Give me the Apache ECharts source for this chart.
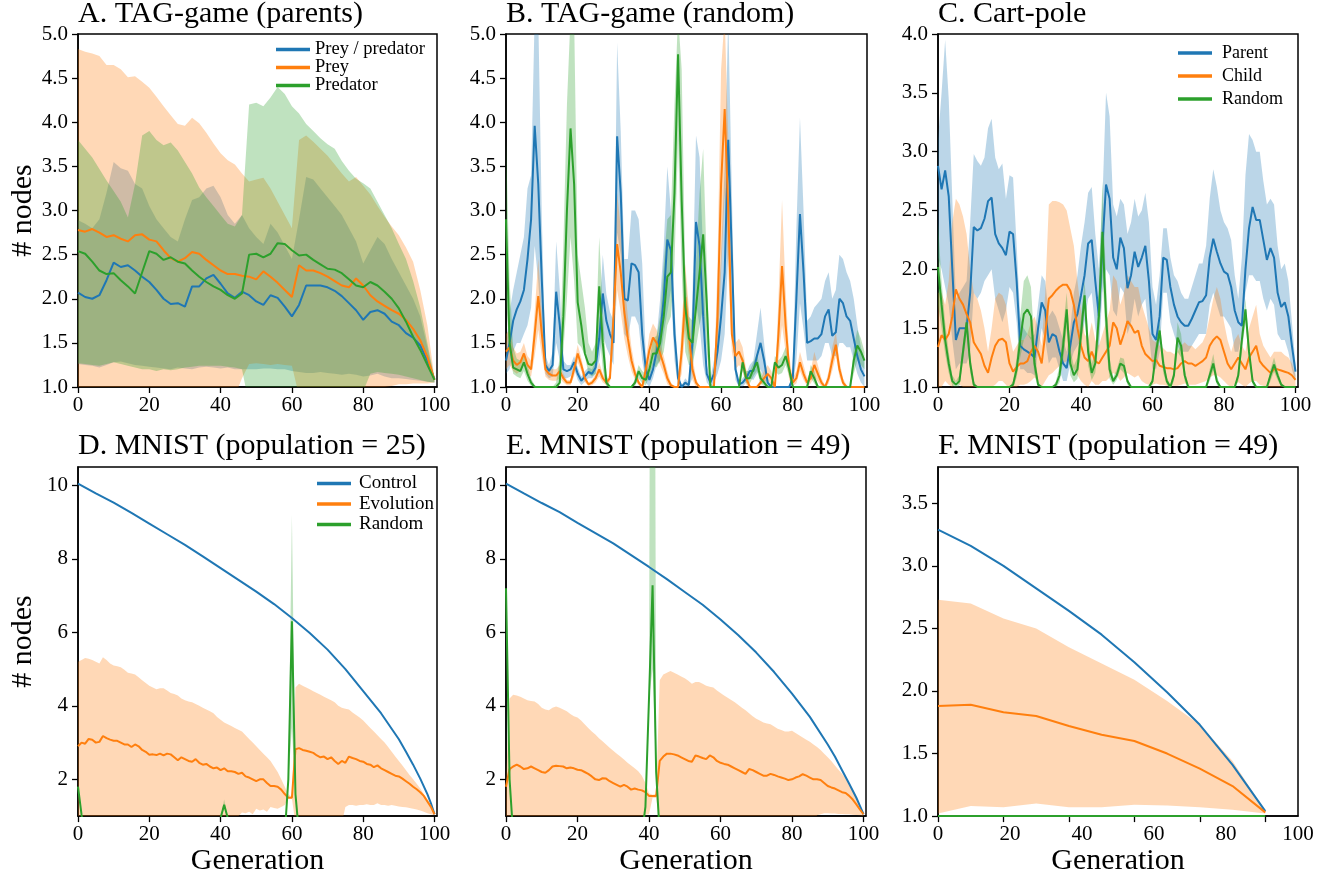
<!DOCTYPE html>
<html><head><meta charset="utf-8">
<script src="https://cdn.jsdelivr.net/npm/echarts@6/dist/echarts.min.js"></script>
<style>html,body{margin:0;padding:0;background:#fff}#c{width:1343px;height:877px}</style>
</head><body><div id="c"></div>
<script>
const FONT = 'Liberation Serif';
const C_BLUE = '#1f77b4', C_ORANGE = '#ff7f0e', C_GREEN = '#2ca02c';
const F_BLUE = 'rgba(31,119,180,0.3)', F_ORANGE = 'rgba(255,127,14,0.3)', F_GREEN = 'rgba(44,160,44,0.3)';

// generation indices
const gensA = []; for (let g = 0; g <= 100; g += 2) gensA.push(g);
const gens = []; for (let g = 0; g <= 100; g++) gens.push(g);
const gensF = [0,10,20,30,40,50,60,70,80,90,100];
const ctrlGens = [0,5,10,15,20,25,30,35,40,45,50,55,60,65,70,75,80,85,90,92,94,96,98,99,100];

// tick labels
const xTicks = [0,20,40,60,80,100];
const yTicksAB = [1.0,1.5,2.0,2.5,3.0,3.5,4.0,4.5,5.0];
const yTicksC = [1.0,1.5,2.0,2.5,3.0,3.5,4.0];
const yTicksDE = [2,4,6,8,10];
const yTicksF = [1.0,1.5,2.0,2.5,3.0,3.5];

// ---- A. TAG-game (parents) ----
const aBlue = [2.07,2.02,2.00,2.04,2.21,2.41,2.36,2.38,2.32,2.25,2.19,2.10,2.00,1.94,1.95,1.91,2.14,2.14,2.23,2.27,2.17,2.06,2.01,2.08,2.04,1.97,1.93,2.04,2.01,1.91,1.80,1.93,2.15,2.15,2.15,2.13,2.09,2.03,1.95,1.87,1.76,1.85,1.87,1.83,1.74,1.70,1.61,1.56,1.47,1.30,1.09];
const aBlueHi = [2.89,2.85,2.80,2.90,3.20,3.55,3.48,3.45,3.30,3.25,3.05,2.90,2.80,2.70,2.65,2.90,3.12,3.15,3.25,3.28,3.15,2.95,2.85,2.95,2.80,2.70,2.62,2.85,2.75,2.60,2.45,2.90,3.38,3.35,3.25,3.15,3.05,2.95,2.80,2.65,2.40,2.55,2.70,2.62,2.45,2.30,2.15,2.00,1.80,1.45,1.10];
const aBlueLo = [1.26,1.25,1.24,1.22,1.25,1.28,1.29,1.27,1.25,1.24,1.23,1.22,1.21,1.20,1.22,1.21,1.20,1.22,1.23,1.22,1.21,1.22,1.20,1.20,1.20,1.20,1.21,1.21,1.20,1.20,1.18,1.17,1.16,1.16,1.17,1.16,1.15,1.14,1.15,1.14,1.12,1.13,1.15,1.12,1.10,1.10,1.09,1.08,1.07,1.06,1.05];
const aOrange = [2.78,2.76,2.79,2.75,2.70,2.72,2.68,2.65,2.72,2.73,2.67,2.65,2.55,2.46,2.42,2.46,2.53,2.51,2.44,2.38,2.32,2.28,2.28,2.26,2.25,2.22,2.31,2.25,2.18,2.10,2.02,2.38,2.32,2.32,2.29,2.25,2.20,2.15,2.13,2.23,2.15,2.04,1.97,1.92,1.87,1.83,1.76,1.66,1.53,1.34,1.08];
const aOrangeHi = [4.83,4.80,4.78,4.75,4.65,4.65,4.60,4.51,4.52,4.46,4.39,4.29,4.18,4.08,3.98,3.96,4.05,3.99,3.88,3.76,3.65,3.57,3.52,3.42,3.33,3.35,3.37,3.25,3.10,2.95,2.80,3.80,3.85,3.78,3.70,3.62,3.52,3.42,3.33,3.38,3.28,3.18,3.05,2.93,2.82,2.72,2.58,2.42,2.10,1.70,1.10];
const aOrangeLo = [0.90,0.90,0.90,0.90,0.90,0.90,0.90,0.90,0.90,0.90,0.90,0.90,0.90,0.90,0.90,0.90,0.90,0.90,0.90,0.90,0.90,0.90,0.90,1.10,1.26,1.27,1.26,1.25,1.26,1.25,1.24,0.90,0.90,0.90,0.90,0.90,0.90,0.90,0.90,0.90,0.90,0.98,0.99,1.00,1.01,1.03,1.03,1.04,1.04,1.04,1.05];
const aGreen = [2.54,2.51,2.42,2.32,2.28,2.29,2.21,2.14,2.06,2.30,2.54,2.51,2.44,2.47,2.42,2.40,2.32,2.25,2.19,2.14,2.10,2.04,2.00,2.06,2.50,2.51,2.47,2.51,2.63,2.62,2.55,2.49,2.50,2.44,2.39,2.34,2.33,2.29,2.22,2.15,2.13,2.19,2.15,2.08,2.00,1.89,1.74,1.57,1.42,1.25,1.08];
const aGreenHi = [3.80,3.70,3.60,3.47,3.34,3.22,3.10,2.92,3.30,3.85,3.90,3.80,3.74,3.77,3.68,3.55,3.42,3.26,3.15,3.05,2.95,2.85,2.82,2.95,4.20,4.22,4.18,4.28,4.40,4.32,4.18,4.10,3.98,3.90,3.82,3.75,3.70,3.56,3.45,3.36,3.31,3.25,3.10,2.95,2.80,2.62,2.45,2.20,1.90,1.50,1.10];
const aGreenLo = [1.27,1.26,1.25,1.24,1.26,1.28,1.26,1.24,1.22,1.20,1.20,1.18,1.20,1.19,1.20,1.22,1.23,1.24,1.24,1.24,1.24,1.23,1.22,1.20,0.80,0.80,0.80,0.80,0.80,0.80,0.80,0.95,0.95,0.95,0.95,0.95,0.95,0.95,0.95,0.95,0.95,1.15,1.17,1.16,1.15,1.14,1.12,1.10,1.08,1.06,1.05];

// ---- B. TAG-game (random) ----
const bBlue = [1.30,1.50,1.75,1.88,1.97,2.10,2.45,2.90,3.96,3.30, 2.20,1.25,1.18,1.25,2.08,1.70,1.20,1.18,1.20,1.28, 1.15,1.07,1.12,1.17,1.15,1.22,1.55,2.06,1.75,1.60, 1.50,3.84,3.20,2.00,1.98,2.40,2.38,2.30,1.60,1.20, 1.08,1.20,1.40,1.60,2.00,2.67,2.55,1.60,1.10,1.00, 1.05,1.02,1.50,2.87,2.60,1.80,1.15,1.05,1.15,1.40, 1.80,2.30,3.80,2.50,1.20,1.03,1.05,1.10,1.18,1.18, 1.35,1.50,1.30,1.05,1.00,1.00,1.00,1.00,1.00,1.00, 1.10,2.00,2.96,2.30,1.50,1.52,1.55,1.55,1.60,1.80, 1.88,1.58,1.62,2.00,1.95,1.80,1.75,1.55,1.35,1.20, 1.12];
const bBlueHi = [1.45,1.85,2.10,2.30,2.50,2.70,3.25,3.40,5.20,5.20, 2.90,1.35,1.25,1.40,2.65,2.10,1.30,1.25,1.25,1.35, 1.22,1.12,1.18,1.22,1.20,1.30,1.80,2.50,2.05,1.85, 1.75,4.90,3.90,2.45,2.45,3.00,3.00,2.90,2.40,1.35, 1.15,1.30,1.55,2.00,2.60,3.50,3.00,1.90,1.20,1.02, 1.10,1.05,2.00,3.85,3.60,2.50,1.25,1.10,1.30,1.80, 2.50,3.50,5.20,3.20,1.30,1.05,1.10,1.15,1.25,1.30, 1.60,1.90,1.50,1.10,1.00,1.00,1.00,1.00,1.00,1.00, 1.20,2.80,4.05,3.00,1.75,1.80,1.90,1.95,2.00,2.20, 2.30,2.00,2.10,2.50,2.45,2.30,2.20,2.00,1.70,1.45, 1.30];
const bBlueLo = [1.15,1.20,1.40,1.50,1.50,1.60,1.70,1.90,2.60,2.20, 1.60,1.15,1.10,1.12,1.50,1.30,1.10,1.10,1.12,1.20, 1.08,1.02,1.06,1.10,1.10,1.15,1.30,1.60,1.45,1.35, 1.25,2.75,2.50,1.60,1.55,1.80,1.80,1.70,1.30,1.05, 1.00,1.10,1.25,1.30,1.60,1.85,2.10,1.30,1.00,0.98, 1.00,1.00,1.10,1.95,1.70,1.25,1.05,1.00,1.05,1.15, 1.30,1.60,2.50,1.80,1.08,1.00,1.00,1.05,1.10,1.08, 1.15,1.20,1.10,1.00,0.98,0.98,0.98,0.98,0.98,0.98, 1.02,1.30,1.95,1.65,1.30,1.30,1.30,1.30,1.35,1.50, 1.50,1.35,1.35,1.50,1.50,1.45,1.45,1.30,1.15,1.05, 1.00];
const bOrange = [1.40,1.45,1.30,1.25,1.28,1.38,1.25,1.20,1.60,2.03, 1.60,1.20,1.15,1.13,1.13,1.18,1.10,1.05,1.05,1.20, 1.38,1.25,1.10,1.03,1.05,1.10,1.20,1.10,1.05,1.10, 1.80,2.62,2.30,1.85,1.55,1.30,1.15,1.05,1.00,1.20, 1.42,1.56,1.50,1.38,1.25,1.10,1.02,1.00,1.00,1.40, 2.02,1.60,1.20,1.05,1.00,1.00,1.00,1.00,1.00,1.80, 3.30,4.15,3.00,1.60,1.35,1.40,1.30,1.10,1.00,1.00, 1.00,1.05,1.10,1.15,1.10,1.00,1.60,2.37,1.70,1.20, 1.05,1.10,1.28,1.15,1.05,1.10,1.25,1.15,1.05,1.00, 1.10,1.30,1.48,1.20,1.05,1.00,1.00,1.00,1.00,1.00, 1.00];
const bOrangeHi = [1.60,1.65,1.45,1.38,1.40,1.50,1.35,1.30,1.85,2.45, 1.85,1.30,1.22,1.20,1.20,1.25,1.15,1.08,1.08,1.28, 1.48,1.33,1.15,1.05,1.08,1.15,1.28,1.15,1.08,1.15, 2.20,3.20,2.80,2.20,1.80,1.45,1.22,1.08,1.02,1.30, 1.60,1.72,1.65,1.50,1.35,1.18,1.05,1.00,1.02,1.70, 2.40,1.90,1.35,1.10,1.00,1.00,1.00,1.00,1.05,2.40, 4.60,5.20,3.80,1.80,1.50,1.55,1.45,1.20,1.02,1.00, 1.00,1.10,1.18,1.25,1.18,1.02,2.00,3.12,2.10,1.35, 1.10,1.18,1.40,1.25,1.10,1.18,1.40,1.25,1.10,1.02, 1.18,1.45,1.62,1.30,1.10,1.02,1.00,1.00,1.00,1.00, 1.00];
const bOrangeLo = [1.20,1.25,1.18,1.15,1.18,1.25,1.15,1.12,1.35,1.65, 1.35,1.12,1.08,1.07,1.07,1.10,1.05,1.02,1.02,1.12, 1.28,1.18,1.05,1.01,1.02,1.05,1.12,1.05,1.02,1.05, 1.45,2.10,1.85,1.55,1.35,1.18,1.08,1.02,0.98,1.10, 1.25,1.40,1.35,1.25,1.15,1.03,1.00,0.98,0.98,1.15, 1.65,1.35,1.08,1.00,0.98,0.98,0.98,0.98,0.98,1.30, 2.30,3.20,2.30,1.40,1.20,1.25,1.18,1.03,0.98,0.98, 0.98,1.02,1.05,1.08,1.03,0.98,1.30,1.70,1.40,1.08, 1.01,1.04,1.18,1.08,1.01,1.04,1.12,1.06,1.01,0.98, 1.04,1.18,1.35,1.12,1.01,0.98,0.98,0.98,0.98,0.98, 0.98];
const bGreen = [2.90,1.50,1.22,1.20,1.18,1.28,1.15,1.05,1.00,1.00, 1.00,1.00,1.00,1.00,1.00,1.05,1.80,3.00,3.93,3.30, 1.96,1.70,1.38,1.26,1.25,1.30,2.14,1.50,1.05,1.00, 1.00,1.00,1.00,1.00,1.00,1.00,1.05,1.18,1.10,1.08, 1.20,1.38,1.38,1.50,1.80,2.25,2.30,3.20,4.77,3.12, 1.91,1.55,1.50,1.90,2.30,2.73,1.95,1.00,1.00,1.00, 1.00,1.00,1.00,1.00,1.00,1.00,1.28,1.10,1.10,1.20, 1.28,1.10,1.05,1.00,1.00,1.28,1.22,1.25,1.35,1.20, 1.00,1.00,1.00,1.00,1.00,1.18,1.10,1.00,1.00,1.00, 1.00,1.00,1.00,1.00,1.00,1.00,1.00,1.30,1.47,1.40, 1.30];
const bGreenHi = [3.80,2.20,1.45,1.32,1.30,1.38,1.25,1.10,1.02,1.00, 1.00,1.00,1.00,1.00,1.05,1.35,2.60,4.20,5.20,5.20, 2.50,2.20,1.90,1.50,1.40,1.50,2.70,1.90,1.15,1.00, 1.00,1.00,1.00,1.00,1.00,1.00,1.10,1.25,1.18,1.15, 1.30,1.55,1.58,1.80,2.40,2.90,2.95,4.20,5.20,4.60, 2.30,1.80,1.75,2.40,3.20,3.70,2.40,1.05,1.00,1.00, 1.00,1.00,1.00,1.00,1.00,1.00,1.35,1.18,1.18,1.28, 1.38,1.18,1.10,1.00,1.00,1.35,1.30,1.35,1.45,1.30, 1.02,1.00,1.00,1.00,1.02,1.25,1.18,1.02,1.00,1.00, 1.00,1.00,1.00,1.00,1.00,1.00,1.02,1.45,1.65,1.55, 1.40];
const bGreenLo = [2.00,1.40,1.15,1.12,1.10,1.18,1.07,1.01,0.98,0.98, 0.98,0.98,0.98,0.98,0.99,1.05,1.40,2.00,2.70,2.20, 1.50,1.45,1.35,1.15,1.12,1.15,1.65,1.20,1.00,0.98, 0.98,0.98,0.98,0.98,0.98,0.98,1.01,1.10,1.04,1.02, 1.12,1.25,1.22,1.30,1.40,1.70,1.80,2.40,3.80,2.30, 1.40,1.25,1.25,1.45,1.70,1.90,1.40,0.98,0.98,0.98, 0.98,0.98,0.98,0.98,0.98,0.98,1.18,1.04,1.04,1.12, 1.18,1.04,1.01,0.98,0.98,1.18,1.14,1.16,1.25,1.12, 0.98,0.98,0.98,0.98,0.98,1.10,1.04,0.98,0.98,0.98, 0.98,0.98,0.98,0.98,0.98,0.98,0.98,1.15,1.30,1.25, 1.20];

// ---- C. Cart-pole ----
const cBlue = [2.88,2.68,2.84,2.62,2.00,1.40,1.50,1.50,1.50,1.80, 2.36,2.33,2.35,2.43,2.58,2.61,2.30,2.22,2.18,2.12, 2.32,2.30,1.90,1.35,1.32,1.30,1.28,1.25,1.50,1.72, 1.65,1.38,1.45,1.43,1.30,1.20,1.16,1.35,1.55,1.62, 1.78,1.95,2.22,2.25,1.90,1.60,2.20,2.72,2.60,2.10, 2.00,2.27,2.18,1.84,1.95,2.15,2.02,2.10,2.20,1.90, 1.45,1.40,1.60,2.10,2.08,1.85,1.70,1.60,1.55,1.52, 1.52,1.58,1.65,1.72,1.73,1.78,2.10,2.26,2.15,2.05, 1.98,1.96,1.85,1.65,1.55,1.52,2.00,2.35,2.53,2.42, 2.42,2.25,2.08,2.18,2.10,1.80,1.68,1.72,1.60,1.35, 1.13];
const cBlueHi = [3.10,3.50,3.95,3.45,2.60,1.75,1.80,1.85,1.90,2.40, 2.98,2.92,2.88,2.95,3.20,3.28,2.95,2.85,2.90,2.60, 2.80,2.78,2.20,1.60,1.50,1.45,1.42,1.45,1.70,1.95, 1.90,1.60,1.65,1.60,1.50,1.40,1.30,1.50,1.80,1.95, 2.20,2.40,2.65,2.70,2.30,2.00,2.60,3.50,3.30,2.55, 2.45,2.60,2.55,2.30,2.40,2.60,2.45,2.50,2.65,2.40, 1.85,1.70,1.95,2.35,2.35,2.10,1.95,1.90,1.80,1.75, 1.75,1.85,1.95,2.05,2.05,2.20,2.60,2.85,2.70,2.50, 2.40,2.35,2.25,1.95,1.75,2.10,2.80,3.15,3.10,3.00, 3.00,2.75,2.55,2.60,2.55,2.20,2.00,2.05,1.90,1.55, 1.20];
const cBlueLo = [2.10,2.00,1.85,1.70,1.40,1.15,1.20,1.20,1.20,1.30, 1.80,1.75,1.80,1.90,1.95,2.00,1.75,1.65,1.55,1.65, 1.85,1.80,1.55,1.15,1.15,1.12,1.12,1.10,1.30,1.50, 1.40,1.20,1.25,1.25,1.15,1.05,1.05,1.20,1.30,1.35, 1.40,1.55,1.75,1.80,1.50,1.30,1.80,2.00,1.95,1.65, 1.60,1.85,1.80,1.45,1.55,1.75,1.60,1.70,1.75,1.45, 1.15,1.15,1.30,1.80,1.80,1.55,1.45,1.35,1.30,1.30, 1.30,1.35,1.40,1.45,1.45,1.45,1.70,1.80,1.70,1.60, 1.60,1.55,1.50,1.30,1.30,1.45,1.80,1.95,1.95,1.90, 1.90,1.75,1.65,1.75,1.70,1.45,1.40,1.40,1.30,1.15, 1.05];
const cOrange = [1.34,1.44,1.40,1.45,1.60,1.83,1.75,1.70,1.62,1.55, 1.38,1.33,1.28,1.18,1.12,1.25,1.35,1.40,1.41,1.38, 1.20,1.13,1.17,1.20,1.20,1.22,1.30,1.35,1.30,1.20, 1.45,1.75,1.78,1.82,1.85,1.87,1.87,1.82,1.70,1.50, 1.35,1.25,1.22,1.30,1.22,1.20,1.25,1.30,1.35,1.55, 1.50,1.36,1.45,1.56,1.52,1.46,1.48,1.35,1.28,1.25, 1.22,1.23,1.18,1.17,1.16,1.16,1.15,1.16,1.20,1.22, 1.20,1.20,1.18,1.20,1.22,1.25,1.35,1.40,1.43,1.40, 1.30,1.20,1.15,1.20,1.25,1.20,1.15,1.25,1.30,1.35, 1.22,1.18,1.15,1.12,1.15,1.15,1.14,1.13,1.12,1.10, 1.06];
const cOrangeHi = [1.80,1.80,1.70,1.90,2.40,2.60,2.55,2.45,2.30,2.00, 1.80,1.75,1.65,1.50,1.30,1.50,1.75,1.80,1.78,1.70, 1.45,1.30,1.35,1.40,1.40,1.45,1.55,1.60,1.50,1.35, 1.80,2.55,2.58,2.58,2.57,2.55,2.50,2.35,2.20,1.90, 1.65,1.45,1.40,1.55,1.40,1.35,1.45,1.55,1.65,1.95, 1.90,1.70,1.80,1.95,1.90,1.85,1.85,1.70,1.60,1.50, 1.40,1.38,1.35,1.33,1.30,1.30,1.28,1.30,1.35,1.38, 1.35,1.35,1.32,1.35,1.38,1.45,1.60,1.75,1.85,1.75, 1.55,1.40,1.30,1.40,1.45,1.35,1.30,1.50,1.60,1.70, 1.45,1.35,1.30,1.25,1.30,1.30,1.30,1.27,1.25,1.20, 1.10];
const cOrangeLo = [0.98,1.00,1.05,1.02,1.00,1.05,1.02,1.00,1.00,1.00, 1.00,1.00,1.00,0.98,0.98,1.00,1.02,1.05,1.05,1.02, 0.98,0.98,1.00,1.02,1.02,1.03,1.05,1.08,1.05,1.00, 1.05,1.10,1.12,1.15,1.18,1.20,1.22,1.20,1.15,1.10, 1.05,1.02,1.00,1.05,1.02,1.02,1.05,1.05,1.08,1.12, 1.10,1.05,1.08,1.12,1.10,1.08,1.10,1.05,1.03,1.02, 1.02,1.03,1.02,1.02,1.01,1.01,1.01,1.01,1.02,1.03, 1.02,1.02,1.02,1.03,1.04,1.05,1.08,1.10,1.10,1.08, 1.05,1.02,1.00,1.02,1.04,1.02,1.00,1.03,1.05,1.05, 1.02,1.01,1.00,0.99,1.00,1.00,1.00,1.00,1.00,1.00, 1.00];
const cGreen = [2.02,1.70,1.40,1.20,1.05,1.02,1.05,1.30,1.55,1.20, 1.02,1.00,1.00,1.00,1.00,1.00,1.00,1.00,1.00,1.00, 1.00,1.02,1.15,1.40,1.62,1.66,1.60,1.20,1.02,1.00, 1.00,1.00,1.00,1.02,1.10,1.35,1.66,1.20,1.10,1.15, 1.45,1.78,1.30,1.12,1.20,1.60,2.32,1.60,1.15,1.05, 1.10,1.20,1.18,1.05,1.00,1.00,1.00,1.00,1.00,1.00, 1.05,1.30,1.48,1.20,1.05,1.00,1.10,1.42,1.35,1.10, 1.00,1.00,1.00,1.00,1.00,1.00,1.10,1.20,1.05,1.00, 1.00,1.00,1.00,1.00,1.10,1.40,1.66,1.30,1.05,1.00, 1.00,1.00,1.00,1.10,1.19,1.10,1.02,1.00,1.00,1.00, 1.00];
const cGreenHi = [2.40,1.90,1.55,1.30,1.10,1.05,1.10,1.38,1.62,1.28, 1.05,1.00,1.00,1.00,1.00,1.00,1.00,1.00,1.00,1.00, 1.00,1.05,1.25,1.60,1.90,1.95,1.85,1.35,1.05,1.00, 1.00,1.00,1.00,1.05,1.18,1.50,1.80,1.32,1.18,1.25, 1.60,1.90,1.45,1.20,1.30,1.85,2.75,1.90,1.25,1.08, 1.15,1.25,1.24,1.08,1.00,1.00,1.00,1.00,1.00,1.00, 1.08,1.40,1.55,1.28,1.08,1.02,1.15,1.55,1.45,1.15, 1.02,1.00,1.00,1.00,1.00,1.00,1.15,1.28,1.10,1.00, 1.00,1.00,1.00,1.00,1.15,1.50,1.75,1.38,1.08,1.00, 1.00,1.00,1.00,1.15,1.25,1.14,1.04,1.00,1.00,1.00, 1.00];
const cGreenLo = [1.70,1.50,1.28,1.12,1.01,0.99,1.01,1.22,1.45,1.12, 0.99,0.98,0.98,0.98,0.98,0.98,0.98,0.98,0.98,0.98, 0.98,0.99,1.08,1.25,1.40,1.45,1.40,1.10,0.99,0.98, 0.98,0.98,0.98,0.99,1.04,1.22,1.50,1.10,1.04,1.07, 1.30,1.65,1.18,1.06,1.12,1.40,1.95,1.35,1.07,1.02, 1.06,1.15,1.12,1.02,0.98,0.98,0.98,0.98,0.98,0.98, 1.02,1.22,1.40,1.12,1.02,0.98,1.05,1.30,1.25,1.05, 0.98,0.98,0.98,0.98,0.98,0.98,1.05,1.14,1.02,0.98, 0.98,0.98,0.98,0.98,1.05,1.30,1.55,1.22,1.02,0.98, 0.98,0.98,0.98,1.05,1.13,1.06,1.00,0.98,0.98,0.98, 0.98];

// ---- D. MNIST (population = 25) ----
const dControl = [10.05,9.78,9.53,9.25,8.96,8.67,8.38,8.07,7.75,7.43,7.11,6.77,6.39,5.98,5.53,5.00,4.40,3.80,3.09,2.75,2.40,2.02,1.60,1.35,1.05];
const dEvo = [2.90,3.00,2.97,3.10,3.08,3.00,3.02,3.18,3.12,3.08, 3.05,3.05,3.00,2.95,2.95,2.88,2.95,2.90,2.80,2.75, 2.67,2.68,2.66,2.70,2.65,2.70,2.68,2.60,2.52,2.60, 2.55,2.50,2.48,2.55,2.45,2.40,2.42,2.35,2.30,2.32, 2.25,2.30,2.22,2.22,2.20,2.15,2.18,2.08,2.05,2.00, 1.95,2.00,2.00,1.90,1.82,1.82,1.80,1.72,1.60,1.50, 1.50,2.82,2.85,2.80,2.78,2.75,2.72,2.65,2.60,2.62, 2.55,2.60,2.50,2.42,2.50,2.45,2.62,2.58,2.55,2.50, 2.48,2.42,2.40,2.33,2.38,2.30,2.25,2.20,2.15,2.10, 2.08,2.02,1.95,1.88,1.80,1.73,1.65,1.55,1.40,1.25, 1.05];
const dEvoHi = [5.20,5.25,5.30,5.28,5.25,5.20,5.15,5.32,5.25,5.15, 5.10,5.08,5.05,4.98,4.90,4.88,4.85,4.78,4.70,4.62, 4.55,4.50,4.45,4.48,4.48,4.42,4.35,4.32,4.28,4.20, 4.15,4.12,4.10,4.05,4.00,3.95,3.90,3.85,3.80,3.70, 3.62,3.55,3.50,3.45,3.40,3.35,3.30,3.20,3.10,3.00, 2.90,2.80,2.70,2.60,2.50,2.35,2.20,2.00,1.80,1.60, 1.52,4.50,4.60,4.55,4.50,4.45,4.40,4.35,4.30,4.25, 4.20,4.15,4.10,4.00,3.95,3.92,3.90,3.82,3.75,3.68, 3.60,3.50,3.40,3.30,3.20,3.10,3.00,2.88,2.75,2.62, 2.50,2.38,2.25,2.12,2.00,1.88,1.75,1.60,1.40,1.22, 1.05];
const dEvoLo = [0.80,0.80,0.80,0.80,0.80,0.80,0.80,0.80,0.80,0.80, 0.80,0.80,0.80,0.80,0.80,0.80,0.80,0.80,0.80,0.80, 0.80,0.80,0.80,0.80,0.80,0.80,0.80,0.80,0.80,0.80, 0.80,0.80,0.80,0.80,0.80,0.80,0.80,0.80,0.80,0.80, 0.80,0.80,0.80,0.80,0.80,1.00,1.10,1.08,1.12,1.05, 1.20,1.15,1.18,1.12,1.25,1.22,1.20,1.25,1.30,1.50, 1.48,0.80,0.80,0.80,0.80,0.80,0.80,0.80,0.80,0.80, 0.80,0.80,0.80,0.80,0.80,1.25,1.30,1.30,1.28,1.30, 1.30,1.32,1.30,1.30,1.35,1.30,1.30,1.28,1.30,1.28, 1.26,1.25,1.24,1.22,1.20,1.18,1.15,1.12,1.08,1.05, 1.02];
const dRandom = [1.80,1.03,0.50,0.50,0.50,0.50,0.50,0.50,0.50,0.50, 0.50,0.50,0.50,0.50,0.50,0.50,0.50,0.50,0.50,0.50, 0.50,0.50,0.50,0.50,0.50,0.50,0.50,0.50,0.50,0.50, 0.50,0.50,0.50,0.50,0.50,0.50,0.50,0.50,0.50,0.50, 0.95,1.31,0.95,0.50,0.50,0.50,0.50,0.50,0.50,0.50, 0.50,0.50,0.50,0.50,0.50,0.50,0.50,0.50,0.50,2.00, 6.30,1.60,0.50,0.50,0.50,0.50,0.50,0.50,0.50,0.50, 0.50,0.50,0.50,0.50,0.50,0.50,0.50,0.50,0.50,0.50, 0.50,0.50,0.50,0.50,0.50,0.50,0.50,0.50,0.50,0.50, 0.50,0.50,0.50,0.50,0.50,0.50,0.50,0.50,0.50,0.50, 0.50];
const dRandomBandGens = [40,41,42,59,60,61];
const dRandomHi = [0.95,1.45,0.95,2.00,9.20,1.60];
const dRandomLo = [0.95,1.20,0.95,2.00,3.40,1.60];

// ---- E. MNIST (population = 49) ----
const eControl = [10.05,9.78,9.52,9.27,8.98,8.70,8.42,8.10,7.78,7.45,7.10,6.75,6.35,5.92,5.45,4.92,4.33,3.70,2.95,2.62,2.25,1.88,1.50,1.28,1.05];
const eEvo = [1.80,2.28,2.35,2.40,2.35,2.28,2.30,2.35,2.30,2.25, 2.20,2.18,2.25,2.35,2.37,2.36,2.35,2.30,2.32,2.30, 2.26,2.25,2.20,2.15,2.08,2.00,1.98,2.03,2.02,1.95, 1.90,1.85,1.80,1.85,1.80,1.72,1.75,1.72,1.70,1.65, 1.55,1.55,1.55,2.50,2.62,2.70,2.70,2.68,2.65,2.60, 2.55,2.50,2.48,2.65,2.62,2.58,2.55,2.65,2.60,2.50, 2.45,2.42,2.40,2.35,2.30,2.25,2.20,2.15,2.28,2.25, 2.20,2.15,2.10,2.10,2.15,2.12,2.08,2.05,2.02,1.98, 2.00,2.05,2.08,2.14,2.10,2.05,2.00,2.00,1.98,1.90, 1.82,1.78,1.75,1.70,1.65,1.63,1.55,1.45,1.32,1.18, 1.05];
const eEvoHi = [2.00,4.20,4.30,4.28,4.25,4.20,4.15,4.13,4.12,4.05, 3.95,3.90,3.88,3.95,3.98,3.95,3.90,3.85,3.78,3.72, 3.68,3.60,3.50,3.40,3.30,3.22,3.12,3.04,2.95,2.86, 2.78,2.70,2.62,2.54,2.45,2.38,2.30,2.22,2.10,1.90, 1.62,1.58,1.60,4.70,4.85,4.90,4.95,4.90,4.85,4.80, 4.75,4.68,4.60,4.65,4.65,4.60,4.55,4.52,4.50,4.42, 4.35,4.28,4.22,4.16,4.10,4.02,3.95,3.88,3.80,3.72, 3.65,3.60,3.55,3.52,3.50,3.44,3.38,3.34,3.30,3.30, 3.32,3.26,3.20,3.14,3.08,3.02,2.95,2.88,2.80,2.70, 2.60,2.50,2.38,2.26,2.15,2.02,1.88,1.72,1.52,1.30, 1.05];
const eEvoLo = [0.80,0.80,0.80,0.80,0.80,0.80,0.80,0.80,0.80,0.80, 0.80,0.80,0.80,0.80,0.80,0.80,0.80,0.80,0.80,0.80, 0.80,0.80,0.80,0.80,0.80,0.80,0.80,0.80,0.80,0.80, 0.80,0.80,0.80,0.80,0.80,0.80,0.80,0.80,0.95,1.04, 1.05,1.50,1.50,0.80,0.80,0.80,0.80,0.80,0.80,0.80, 0.80,0.80,0.80,0.80,0.80,0.80,0.80,0.80,0.80,0.80, 0.80,0.80,0.80,0.80,0.80,0.80,0.80,0.80,0.80,0.80, 0.80,0.80,0.80,0.80,0.80,0.80,0.80,0.80,0.80,0.80, 0.80,0.80,0.80,0.80,0.80,0.80,0.80,1.02,1.05,1.08, 1.08,1.07,1.07,1.06,1.06,1.05,1.05,1.04,1.03,1.02, 1.00];
const eRandom = [7.20,2.00,0.50,0.50,0.50,0.50,0.50,0.50,0.50,0.50, 0.50,0.50,0.50,0.50,0.50,0.50,0.50,0.50,0.50,0.50, 0.50,0.50,0.50,0.50,0.50,0.50,0.50,0.50,0.50,0.50, 0.50,0.50,0.50,0.50,0.50,0.50,0.50,0.50,0.50,1.25, 4.20,7.28,2.20,0.50,0.50,0.50,0.50,0.50,0.50,0.50, 0.50,0.50,0.50,0.50,0.50,0.50,0.50,0.50,0.50,0.50, 0.50,0.50,0.50,0.50,0.50,0.50,0.50,0.50,0.50,0.50, 0.50,0.50,0.50,0.50,0.50,0.50,0.50,0.50,0.50,0.50, 0.50,0.50,0.50,0.50,0.50,0.50,0.50,0.50,0.50,0.50, 0.50,0.50,0.50,0.50,0.50,0.50,0.50,0.50,0.50,0.50, 0.50];
const eRandomBandGens = [39,40,41,42,43];
const eRandomHi = [1.25,4.20,40.0,2.20,0.50];
const eRandomLo = [1.25,4.20,5.00,2.20,0.50];

// ---- F. MNIST (population = 49) ----
const fControl = [3.29,3.16,3.00,2.82,2.64,2.45,2.23,1.99,1.73,1.41,1.04];
const fEvo = [1.88,1.89,1.83,1.80,1.72,1.65,1.60,1.50,1.38,1.24,1.03];
const fEvoHi = [2.73,2.70,2.58,2.50,2.35,2.22,2.09,1.92,1.73,1.44,1.04];
const fEvoLo = [1.02,1.08,1.07,1.10,1.07,1.07,1.09,1.085,1.07,1.05,1.02];
const fRandom = [1.00,1.00,1.00,1.00,1.00,1.00,1.00,1.00,1.00,1.00,1.00];

// ================= chart =================
const chart = echarts.init(document.getElementById('c'), null, {renderer: 'canvas'});
const TXT = {fontFamily: FONT, color: '#000'};

const grids = [
  {left: 78, top: 34, width: 359, height: 353},
  {left: 506, top: 34, width: 361, height: 353},
  {left: 938, top: 34, width: 360, height: 353},
  {left: 78, top: 467, width: 359, height: 351},
  {left: 506, top: 467, width: 360, height: 351},
  {left: 938, top: 467, width: 360, height: 351}
].map(g => Object.assign(g, {show: true, borderColor: '#000', borderWidth: 1.5, backgroundColor: 'transparent'}));

function xAx(gi, opts) {
  return Object.assign({
    type: 'value', gridIndex: gi, min: 0, max: 100.7, position: 'bottom',
    axisLine: {show: true, onZero: false, lineStyle: {color: '#000', width: 1.5}},
    axisTick: {show: true, customValues: xTicks, length: 6, lineStyle: {color: '#000', width: 1.3}},
    axisLabel: {show: true, customValues: xTicks, fontSize: 21, margin: 8, ...TXT},
    splitLine: {show: false}
  }, opts || {});
}
function yAx(gi, min, max, ticks, fmt, opts) {
  return Object.assign({
    type: 'value', gridIndex: gi, min: min, max: max,
    axisLine: {show: true, onZero: false, lineStyle: {color: '#000', width: 1.5}},
    axisTick: {show: true, customValues: ticks, length: 6, lineStyle: {color: '#000', width: 1.3}},
    axisLabel: {show: true, customValues: ticks, fontSize: 21, margin: 10, formatter: fmt, ...TXT},
    splitLine: {show: false}
  }, opts || {});
}
const f1 = v => Number(v).toFixed(1);
const f0 = v => String(Math.round(v));
const genName = {name: 'Generation', nameLocation: 'middle', nameGap: 27, nameTextStyle: {fontSize: 30, ...TXT}};
const nodesName = {name: '# nodes', nameLocation: 'middle', nameGap: 40, nameTextStyle: {fontSize: 30, ...TXT}};

const xAxis = [
  xAx(0), xAx(1), xAx(2),
  xAx(3, genName), xAx(4, genName),
  xAx(5, {max: 110, axisLabel: {show: false}}),
  Object.assign(xAx(5, genName), {max: 100, axisLine: {show: false}, axisTick: {show: false}})
];
const yAxis = [
  yAx(0, 1, 5, yTicksAB, f1, nodesName),
  yAx(1, 1, 5, yTicksAB, f1),
  yAx(2, 1, 4, yTicksC, f1),
  yAx(3, 1, 10.5, yTicksDE, f0, nodesName),
  yAx(4, 1, 10.5, yTicksDE, f0),
  yAx(5, 1, 3.79, yTicksF, f1)
];

function band(xi, yi, xs, lo, hi, fill) {
  return {
    type: 'custom', coordinateSystem: 'cartesian2d', xAxisIndex: xi, yAxisIndex: yi,
    clip: true, silent: true, z: 1, animation: false,
    encode: {x: 0, y: 1},
    data: [[xs[0], lo[0]]],
    renderItem: function (params, api) {
      const pts = [];
      for (let i = 0; i < xs.length; i++) pts.push(api.coord([xs[i], hi[i]]));
      for (let i = xs.length - 1; i >= 0; i--) pts.push(api.coord([xs[i], lo[i]]));
      const cs = params.coordSys;
      return {
        type: 'polygon', shape: {points: pts}, style: {fill: fill, stroke: null},
        clipPath: {type: 'rect', shape: {x: cs.x, y: cs.y, width: cs.width, height: cs.height}}
      };
    }
  };
}
function ln(xi, yi, xs, ys, color, name) {
  return {
    type: 'line', name: name, xAxisIndex: xi, yAxisIndex: yi,
    data: xs.map((x, i) => [x, ys[i]]),
    symbol: 'none', showSymbol: false, clip: true, z: 3, animation: false, silent: true,
    smooth: false,
    lineStyle: {width: 2, color: color}, itemStyle: {color: color}
  };
}

const series = [
  // A
  band(0, 0, gensA, aBlueLo, aBlueHi, F_BLUE),
  band(0, 0, gensA, aOrangeLo, aOrangeHi, F_ORANGE),
  band(0, 0, gensA, aGreenLo, aGreenHi, F_GREEN),
  ln(0, 0, gensA, aBlue, C_BLUE, 'Prey / predator'),
  ln(0, 0, gensA, aOrange, C_ORANGE, 'Prey'),
  ln(0, 0, gensA, aGreen, C_GREEN, 'Predator'),
  // B
  band(1, 1, gens, bBlueLo, bBlueHi, F_BLUE),
  band(1, 1, gens, bOrangeLo, bOrangeHi, F_ORANGE),
  band(1, 1, gens, bGreenLo, bGreenHi, F_GREEN),
  ln(1, 1, gens, bBlue, C_BLUE, 'Prey / predator'),
  ln(1, 1, gens, bOrange, C_ORANGE, 'Prey'),
  ln(1, 1, gens, bGreen, C_GREEN, 'Predator'),
  // C
  band(2, 2, gens, cBlueLo, cBlueHi, F_BLUE),
  band(2, 2, gens, cOrangeLo, cOrangeHi, F_ORANGE),
  band(2, 2, gens, cGreenLo, cGreenHi, F_GREEN),
  ln(2, 2, gens, cBlue, C_BLUE, 'Parent'),
  ln(2, 2, gens, cOrange, C_ORANGE, 'Child'),
  ln(2, 2, gens, cGreen, C_GREEN, 'Random'),
  // D
  band(3, 3, gens, dEvoLo, dEvoHi, F_ORANGE),
  band(3, 3, dRandomBandGens, dRandomLo, dRandomHi, F_GREEN),
  ln(3, 3, ctrlGens, dControl, C_BLUE, 'Control'),
  ln(3, 3, gens, dEvo, C_ORANGE, 'Evolution'),
  ln(3, 3, gens, dRandom, C_GREEN, 'Random'),
  // E
  band(4, 4, gens, eEvoLo, eEvoHi, F_ORANGE),
  band(4, 4, eRandomBandGens, eRandomLo, eRandomHi, F_GREEN),
  ln(4, 4, ctrlGens, eControl, C_BLUE, 'Control'),
  ln(4, 4, gens, eEvo, C_ORANGE, 'Evolution'),
  ln(4, 4, gens, eRandom, C_GREEN, 'Random'),
  // F
  band(5, 5, gensF, fEvoLo, fEvoHi, F_ORANGE),
  ln(5, 5, gensF, fControl, C_BLUE, 'Control'),
  ln(5, 5, gensF, fEvo, C_ORANGE, 'Evolution'),
  ln(5, 5, gensF, fRandom, C_GREEN, 'Random')
];

function title(text, left, top) {
  return {text: text, left: left, top: top, padding: 0,
    textStyle: {fontSize: 30, fontWeight: 'normal', ...TXT}};
}
function legend(names, left, top, gap, fs, txtPad) {
  return {data: names, orient: 'vertical', left: left, top: top, icon: 'rect',
    itemWidth: 34, itemHeight: 3.5, itemGap: gap, padding: 0, selectedMode: false,
    textStyle: {fontSize: fs, padding: [0, 0, 0, txtPad], ...TXT}};
}

chart.setOption({
  animation: false,
  backgroundColor: '#fff',
  title: [
    title('A. TAG-game (parents)', 78, -1),
    title('B. TAG-game (random)', 506, -1),
    title('C. Cart-pole', 938, -1),
    title('D. MNIST (population = 25)', 78, 431),
    title('E. MNIST (population = 49)', 506, 431),
    title('F. MNIST (population = 49)', 938, 431)
  ],
  legend: [
    legend(['Prey / predator', 'Prey', 'Predator'], 276, 40, -1, 18.5, 0),
    legend(['Parent', 'Child', 'Random'], 1178, 44, 5, 18, 5),
    legend(['Control', 'Evolution', 'Random'], 317, 474, 1.5, 19, 3)
  ],
  grid: grids,
  xAxis: xAxis,
  yAxis: yAxis,
  series: series
});
</script>
</body></html>
